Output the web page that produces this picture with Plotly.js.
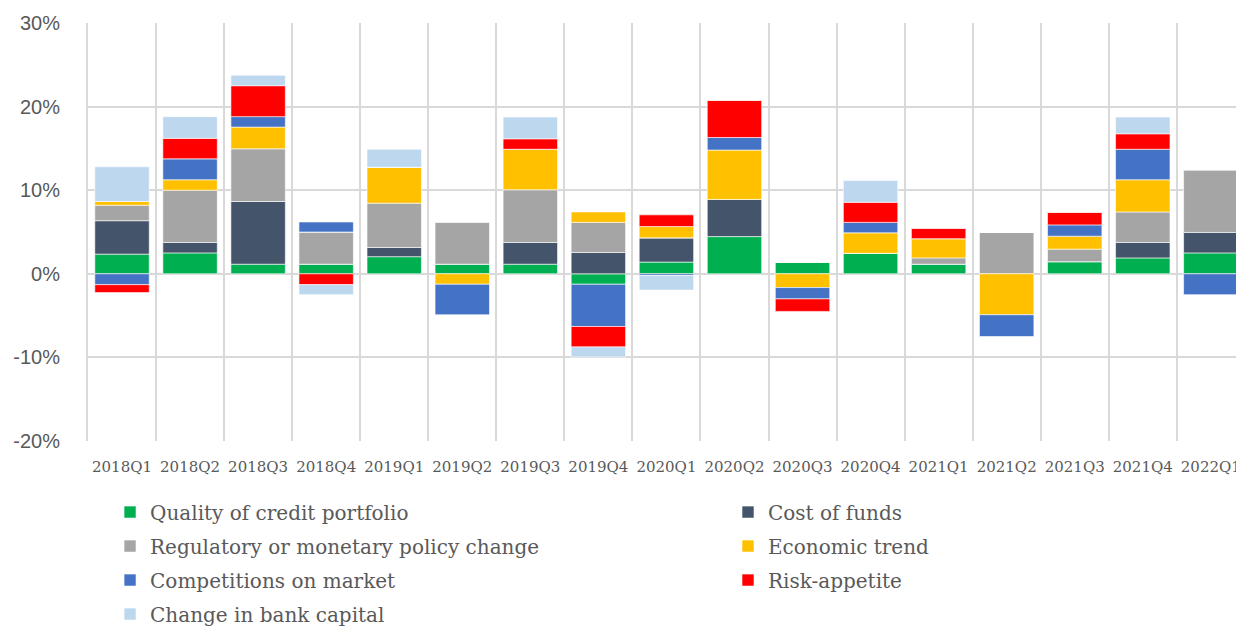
<!DOCTYPE html>
<html>
<head>
<meta charset="utf-8">
<script src="https://cdn.plot.ly/plotly-3.0.1.min.js"></script>
<style>html,body{margin:0;padding:0;background:#fff;}#chart{width:1236px;height:629px;}</style>
</head>
<body>
<div id="chart"></div>
<script>
const quarters = ["2018Q1","2018Q2","2018Q3","2018Q4","2019Q1","2019Q2","2019Q3","2019Q4","2020Q1","2020Q2","2020Q3","2020Q4","2021Q1","2021Q2","2021Q3","2021Q4","2022Q1"];

const seriesNames = ["Quality of credit portfolio","Cost of funds","Regulatory or monetary policy change","Economic trend","Competitions on market","Risk-appetite","Change in bank capital"];

const qualityCredit = [2.35, 2.5, 1.15, 1.15, 2.05, 1.15, 1.15, -1.25, 1.4, 4.45, 1.4, 2.45, 1.15, 0, 1.45, 1.9, 2.5];
const costFunds     = [4.0, 1.25, 7.5, 0, 1.1, 0, 2.6, 2.55, 2.9, 4.45, 0, 0, 0, 0, 0, 1.85, 2.45];
const regulatory    = [1.85, 6.25, 6.3, 3.85, 5.3, 5.05, 6.3, 3.6, 0, 0, 0, 0, 0.75, 4.95, 1.5, 3.65, 7.5];
const economicTrend = [0.45, 1.25, 2.6, 0, 4.3, -1.25, 4.85, 1.25, 1.35, 5.9, -1.65, 2.45, 2.3, -4.9, 1.55, 3.85, 0];
const competition   = [-1.3, 2.5, 1.25, 1.2, 0, -3.65, 0, -5.05, -0.2, 1.5, -1.35, 1.25, 0, -2.6, 1.35, 3.65, -2.5];
const riskAppetite  = [-0.95, 2.45, 3.7, -1.3, 0, 0, 1.25, -2.45, 1.4, 4.45, -1.5, 2.4, 1.25, 0, 1.5, 1.85, 0];
const bankCapital   = [4.15, 2.6, 1.25, -1.2, 2.15, 0, 2.6, -1.2, -1.75, 0, 0, 2.6, 0, 0, 0, 2.0, 0];

const yTicks = [-20, -10, 0, 10, 20, 30];
const yTickText = ["-20%","-10%","0%","10%","20%","30%"];

const allSeries = [qualityCredit, costFunds, regulatory, economicTrend, competition, riskAppetite, bankCapital];
const colors = ["#00B050","#44546A","#A5A5A5","#FFC000","#4472C4","#FF0000","#BDD7EE"];
const legendFor = ["legend","legend2","legend","legend2","legend","legend2","legend"];

const traces = allSeries.map((vals, i) => ({
  type: 'bar',
  name: seriesNames[i],
  x: quarters,
  y: vals,
  legend: legendFor[i],
  legendgroup: 'g' + i,
  marker: {color: colors[i], line: {color: 'rgba(255,255,255,0.6)', width: 1}},
  hoverinfo: 'x+y+name'
}));

const legendFont = {family: 'DejaVu Serif', size: 20, color: '#595959'};

const layout = {
  width: 1236,
  height: 629,
  margin: {l: 88, r: 0, t: 23, b: 188},
  paper_bgcolor: '#ffffff',
  plot_bgcolor: '#ffffff',
  barmode: 'relative',
  bargap: 0.2,
  showlegend: true,
  xaxis: {
    type: 'category',
    range: [-0.5, 16.37],
    tickson: 'boundaries',
    showgrid: true,
    gridcolor: '#D9D9D9',
    gridwidth: 2,
    ticks: '',
    tickangle: 0,
    ticklabelstandoff: 15,
    tickfont: {family: 'DejaVu Serif', size: 15, color: '#595959'},
    zeroline: false,
    showline: false,
    fixedrange: true
  },
  yaxis: {
    range: [-20, 30],
    tickvals: yTicks,
    ticktext: yTickText,
    showgrid: true,
    gridcolor: '#D9D9D9',
    gridwidth: 2,
    zeroline: false,
    showline: true,
    linecolor: '#D9D9D9',
    linewidth: 2,
    ticks: '',
    ticklabelstandoff: 22,
    tickfont: {family: 'Liberation Sans', size: 20, color: '#595959'},
    fixedrange: true
  },
  legend: {
    orientation: 'v',
    x: 0.0192,
    xanchor: 'left',
    yref: 'container',
    y: 0.2169,
    yanchor: 'top',
    font: legendFont,
    traceorder: 'grouped',
    tracegroupgap: 5,
    bgcolor: 'rgba(0,0,0,0)'
  },
  legend2: {
    orientation: 'v',
    x: 0.5575,
    xanchor: 'left',
    yref: 'container',
    y: 0.2169,
    yanchor: 'top',
    font: legendFont,
    traceorder: 'grouped',
    tracegroupgap: 5,
    bgcolor: 'rgba(0,0,0,0)'
  }
};

Plotly.newPlot('chart', traces, layout, {displayModeBar: false, staticPlot: true});
</script>
</body>
</html>
